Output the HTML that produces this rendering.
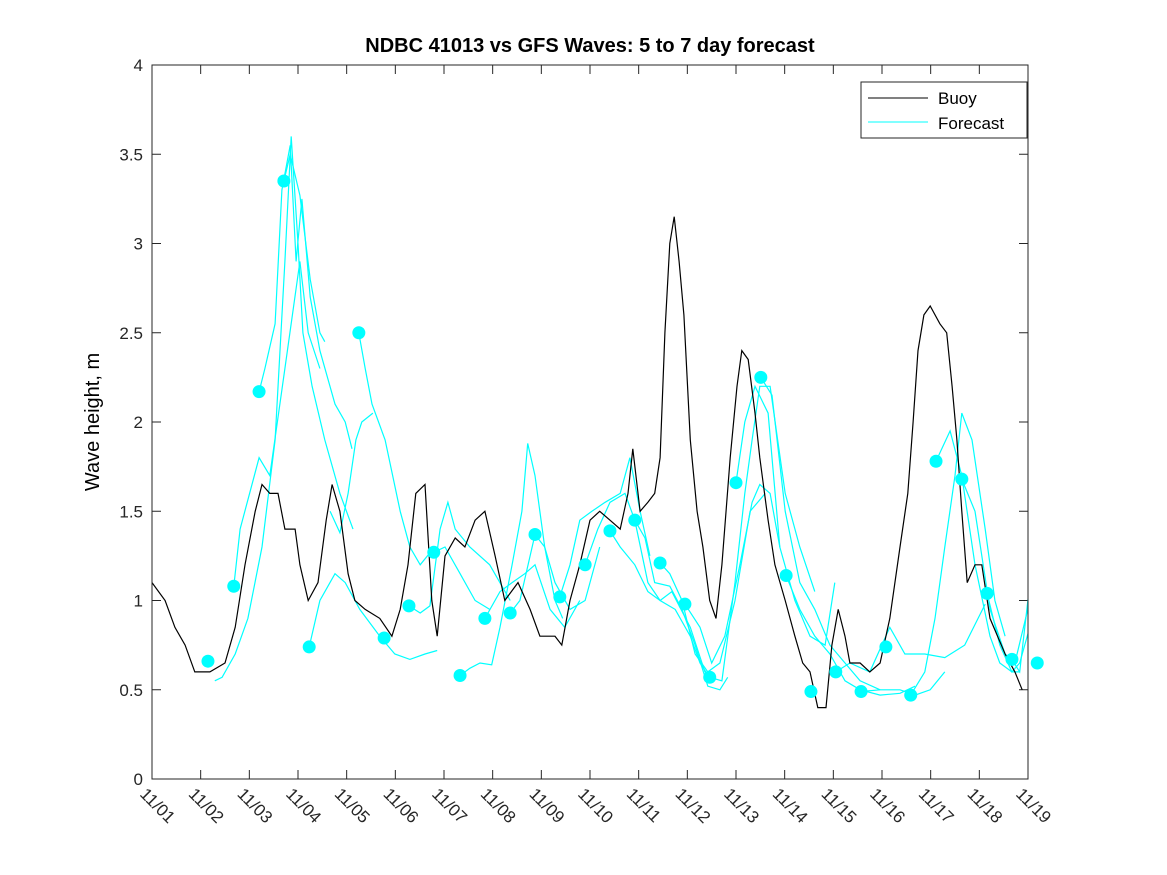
<!DOCTYPE html>
<html><head><meta charset="utf-8"><style>
body{margin:0;background:#fff;}
svg{display:block;font-family:"Liberation Sans","DejaVu Sans",sans-serif;}
</style></head><body>
<svg id="chart" width="1167" height="875" viewBox="0 0 1167 875">
<defs><clipPath id="clip"><rect x="152" y="65" width="876" height="714"/></clipPath></defs>
<rect width="1167" height="875" fill="#fff"/>
<text x="590" y="52" text-anchor="middle" font-size="20" font-weight="bold">NDBC 41013 vs GFS Waves: 5 to 7 day forecast</text>
<text transform="translate(99,422) rotate(-90)" text-anchor="middle" font-size="20">Wave height, m</text>
<g id="axes"></g>
<g id="series" clip-path="url(#clip)"></g>
<rect x="152" y="65" width="876" height="714" fill="none" stroke="#262626" stroke-width="1"/>
<g>
<rect x="861" y="82" width="166" height="56" fill="#fff" stroke="#262626"/>
<line x1="868" y1="98" x2="928" y2="98" stroke="#000"/>
<text x="938" y="104" font-size="17">Buoy</text>
<line x1="868" y1="122" x2="928" y2="122" stroke="#00ffff"/>
<text x="938" y="129" font-size="17">Forecast</text>
</g>
</svg>
<script>
const xTickLabels=["11/01","11/02","11/03","11/04","11/05","11/06","11/07","11/08","11/09","11/10","11/11","11/12","11/13","11/14","11/15","11/16","11/17","11/18","11/19"];
const yTicks=[0,0.5,1,1.5,2,2.5,3,3.5,4];
const yTickLabels=["0","0.5","1","1.5","2","2.5","3","3.5","4"];
const buoyDays=[0,0.27,0.47,0.68,0.88,1.19,1.5,1.71,1.91,2.12,2.26,2.42,2.59,2.73,2.94,3.04,3.21,3.41,3.58,3.70,3.86,4.03,4.17,4.38,4.68,4.93,5.10,5.26,5.42,5.61,5.75,5.86,6.02,6.23,6.43,6.64,6.84,7.05,7.25,7.52,7.77,7.97,8.28,8.42,8.59,8.79,9.0,9.20,9.41,9.62,9.78,9.88,10.03,10.19,10.33,10.44,10.54,10.64,10.73,10.83,10.93,11.06,11.20,11.32,11.46,11.59,11.71,11.88,12.02,12.12,12.25,12.39,12.49,12.66,12.80,13.01,13.21,13.37,13.52,13.68,13.85,13.97,14.10,14.24,14.34,14.55,14.75,14.96,15.16,15.37,15.53,15.64,15.74,15.86,15.99,16.19,16.33,16.44,16.54,16.64,16.75,16.91,17.05,17.22,17.53,17.73,17.88];
const buoyVals=[1.1,1.0,0.85,0.75,0.6,0.6,0.65,0.85,1.2,1.5,1.65,1.6,1.6,1.4,1.4,1.2,1.0,1.1,1.45,1.65,1.5,1.15,1.0,0.95,0.9,0.8,0.95,1.2,1.6,1.65,1.0,0.8,1.25,1.35,1.3,1.45,1.5,1.25,1.0,1.1,0.95,0.8,0.8,0.75,1.0,1.2,1.45,1.5,1.45,1.4,1.6,1.85,1.5,1.55,1.6,1.8,2.5,3.0,3.15,2.9,2.6,1.9,1.5,1.3,1.0,0.9,1.2,1.8,2.2,2.4,2.35,2.05,1.8,1.45,1.2,1.0,0.8,0.65,0.6,0.4,0.4,0.75,0.95,0.8,0.65,0.65,0.6,0.65,0.9,1.3,1.6,2.0,2.4,2.6,2.65,2.55,2.5,2.2,1.9,1.5,1.1,1.2,1.2,0.9,0.7,0.6,0.5];
const dotDays=[1.15,1.68,2.20,2.71,3.23,4.25,4.77,5.28,5.79,6.33,6.84,7.36,7.87,8.38,8.90,9.41,9.92,10.44,10.95,11.46,12.0,12.51,13.03,13.54,14.05,14.57,15.08,15.59,16.11,16.64,17.16,17.67,18.19];
const dotVals=[0.66,1.08,2.17,3.35,0.74,2.5,0.79,0.97,1.27,0.58,0.90,0.93,1.37,1.02,1.20,1.39,1.45,1.21,0.98,0.57,1.66,2.25,1.14,0.49,0.60,0.49,0.74,0.47,1.78,1.68,1.04,0.67,0.65];
const fcDays=[
[1.29,1.44,1.71,1.97,2.26,2.53,2.73,2.86,3.0,3.10,3.29,3.55,3.86,4.13],
[2.20,2.32,2.53,2.67,2.84,2.96,3.08,3.25,3.45,3.76,3.97,4.11],
[1.68,1.81,2.20,2.42,2.73,3.04,3.21,3.45],
[2.71,2.84,3.04,3.25,3.45,3.55],
[3.23,3.45,3.76,3.97,4.27,4.68,4.99,5.30,5.61,5.86],
[4.25,4.38,4.52,4.79,5.10,5.30,5.51,5.75],
[3.66,3.86,4.03,4.19,4.31,4.54],
[5.28,5.51,5.71,5.92,6.08,6.23,6.53,6.94,7.36],
[5.79,6.02,6.33,6.64,6.94],
[6.33,6.53,6.74,6.98,7.15,7.40,7.60,7.72,7.87,8.07,8.28,8.44],
[6.84,7.15,7.40,7.66,7.87,8.18,8.48,8.79],
[7.36,7.56,7.87,8.07,8.28,8.59,8.90,9.20],
[8.38,8.59,8.79,9.04,9.31,9.62,9.82,10.03,10.23],
[8.90,9.16,9.41,9.72,9.92,10.19,10.44,10.75,11.06,11.26,11.5],
[9.41,9.62,9.92,10.19,10.44,10.68,11.06,11.36,11.57],
[9.92,10.13,10.33,10.64,10.89,11.16,11.42,11.67,11.83],
[10.44,10.64,10.89,11.16,11.42,11.67,11.98,12.29,12.60],
[10.95,11.26,11.50,11.77,12.08,12.33,12.49,12.70,12.90],
[11.46,11.71,11.98,12.18,12.33,12.49,12.70,13.01,13.31,13.62],
[12.0,12.18,12.39,12.66,12.90,13.21,13.52,13.83,14.03],
[12.51,12.74,13.01,13.31,13.62,13.93,14.24,14.55,14.96],
[13.03,13.31,13.62,13.93,14.24,14.55,14.96,15.37,15.68],
[14.05,14.34,14.75,15.16,15.47,15.88,16.29,16.70,17.12],
[14.57,14.96,15.37,15.68,15.99,16.29],
[15.59,15.88,16.09,16.29,16.50,16.64,16.85,17.12,17.32,17.53],
[16.11,16.40,16.64,16.91,17.22,17.42,17.67,17.83],
[16.64,16.91,17.22,17.53,17.73,18.04],
[17.16,17.42,17.67,17.83,18.14,18.45,18.55],
[17.67,17.83,18.04]
];
const fcVals=[
[0.55,0.57,0.7,0.9,1.3,1.9,2.9,3.6,3.0,2.5,2.2,1.9,1.6,1.4],
[2.17,2.3,2.55,3.3,3.55,2.9,3.25,2.7,2.4,2.1,2.0,1.85],
[1.08,1.4,1.8,1.7,2.3,2.9,2.5,2.3],
[3.35,3.5,3.27,2.8,2.5,2.45],
[0.74,1.0,1.15,1.1,0.95,0.8,0.7,0.67,0.7,0.72],
[2.5,2.3,2.1,1.9,1.5,1.3,1.2,1.28],
[1.5,1.38,1.6,1.9,2.0,2.05],
[0.97,0.93,0.97,1.4,1.55,1.4,1.3,1.2,1.0],
[1.27,1.3,1.15,1.0,0.95],
[0.58,0.62,0.65,0.64,0.85,1.2,1.5,1.88,1.7,1.3,1.0,0.9],
[0.9,1.05,1.1,1.15,1.2,0.95,0.85,1.0],
[0.93,1.0,1.37,1.3,1.1,0.95,1.0,1.3],
[1.02,1.2,1.45,1.5,1.55,1.6,1.8,1.5,1.25],
[1.2,1.4,1.55,1.6,1.45,1.1,1.0,0.95,0.8,0.65,0.55],
[1.39,1.3,1.2,1.05,1.0,1.05,0.85,0.6,0.55],
[1.45,1.35,1.1,1.08,0.95,0.75,0.52,0.5,0.57],
[1.21,1.15,1.0,0.7,0.6,0.65,1.0,1.5,1.6],
[0.98,0.85,0.65,0.8,1.2,1.55,1.65,1.6,1.3],
[0.57,0.55,1.1,1.6,1.9,2.2,2.2,1.6,1.3,1.05],
[1.66,2.0,2.2,2.05,1.3,1.0,0.8,0.75,1.1],
[2.25,2.15,1.5,1.1,0.95,0.75,0.65,0.55,0.5],
[1.14,0.95,0.8,0.7,0.55,0.5,0.47,0.48,0.52],
[0.6,0.65,0.6,0.85,0.7,0.7,0.68,0.75,0.98],
[0.49,0.5,0.5,0.47,0.5,0.6],
[0.47,0.6,0.9,1.3,1.7,2.05,1.9,1.4,1.0,0.8],
[1.78,1.95,1.7,1.2,0.8,0.65,0.6,0.6],
[1.68,1.5,0.95,0.7,0.65,1.0],
[1.04,0.75,0.6,0.65,0.95,1.4,1.4],
[0.67,0.6,1.1]
];
const X0=152,X1=1028,Y0=779,Y1=65;
function xs(d){return X0+(d/18)*(X1-X0);}
function ys(v){return Y0-(v/4)*(Y0-Y1);}
const NS="http://www.w3.org/2000/svg";
const axes=document.getElementById('axes'),series=document.getElementById('series');
function mk(tag,attrs,parent){const e=document.createElementNS(NS,tag);for(const k in attrs)e.setAttribute(k,attrs[k]);parent.appendChild(e);return e;}
xTickLabels.forEach((lab,i)=>{const x=xs(i);
 const t1=mk('line',{x1:x,y1:Y0,x2:x,y2:Y0-9,stroke:'#262626'},axes);
 
 
 mk('line',{x1:x,y1:Y1,x2:x,y2:Y1+9,stroke:'#262626'},axes);
 const t=mk('text',{transform:`translate(${x-13},${Y0+16}) rotate(45)`,'font-size':17,fill:'#262626'},axes);
 
 
 t.textContent=lab;});
yTicks.forEach((v,i)=>{const y=ys(v);
 const l=mk('line',{x1:X0,y1:y,x2:X0+9,y2:y,stroke:'#262626'},axes);
 
 
 mk('line',{x1:X1,y1:y,x2:X1-9,y2:y,stroke:'#262626'},axes);
 const t=mk('text',{x:X0-9,y:y+6,'text-anchor':'end','font-size':17,fill:'#262626'},axes);
 
 
 t.textContent=yTickLabels[i];});
fcDays.forEach((ds,i)=>{const pts=ds.map((d,j)=>xs(d).toFixed(1)+','+ys(fcVals[i][j]).toFixed(1)).join(' ');
 const p=mk('polyline',{points:pts,fill:'none',stroke:'#00ffff','stroke-width':1.2},series);
 
 });
const bp=mk('polyline',{points:buoyDays.map((d,j)=>xs(d).toFixed(1)+','+ys(buoyVals[j]).toFixed(1)).join(' '),fill:'none',stroke:'#000','stroke-width':1.2},series);


dotDays.forEach((d,j)=>{const c=mk('circle',{cx:xs(d),cy:ys(dotVals[j]),r:6.5,fill:'#00ffff'},document.getElementById('chart'));
 
 });
</script>
</body></html>
